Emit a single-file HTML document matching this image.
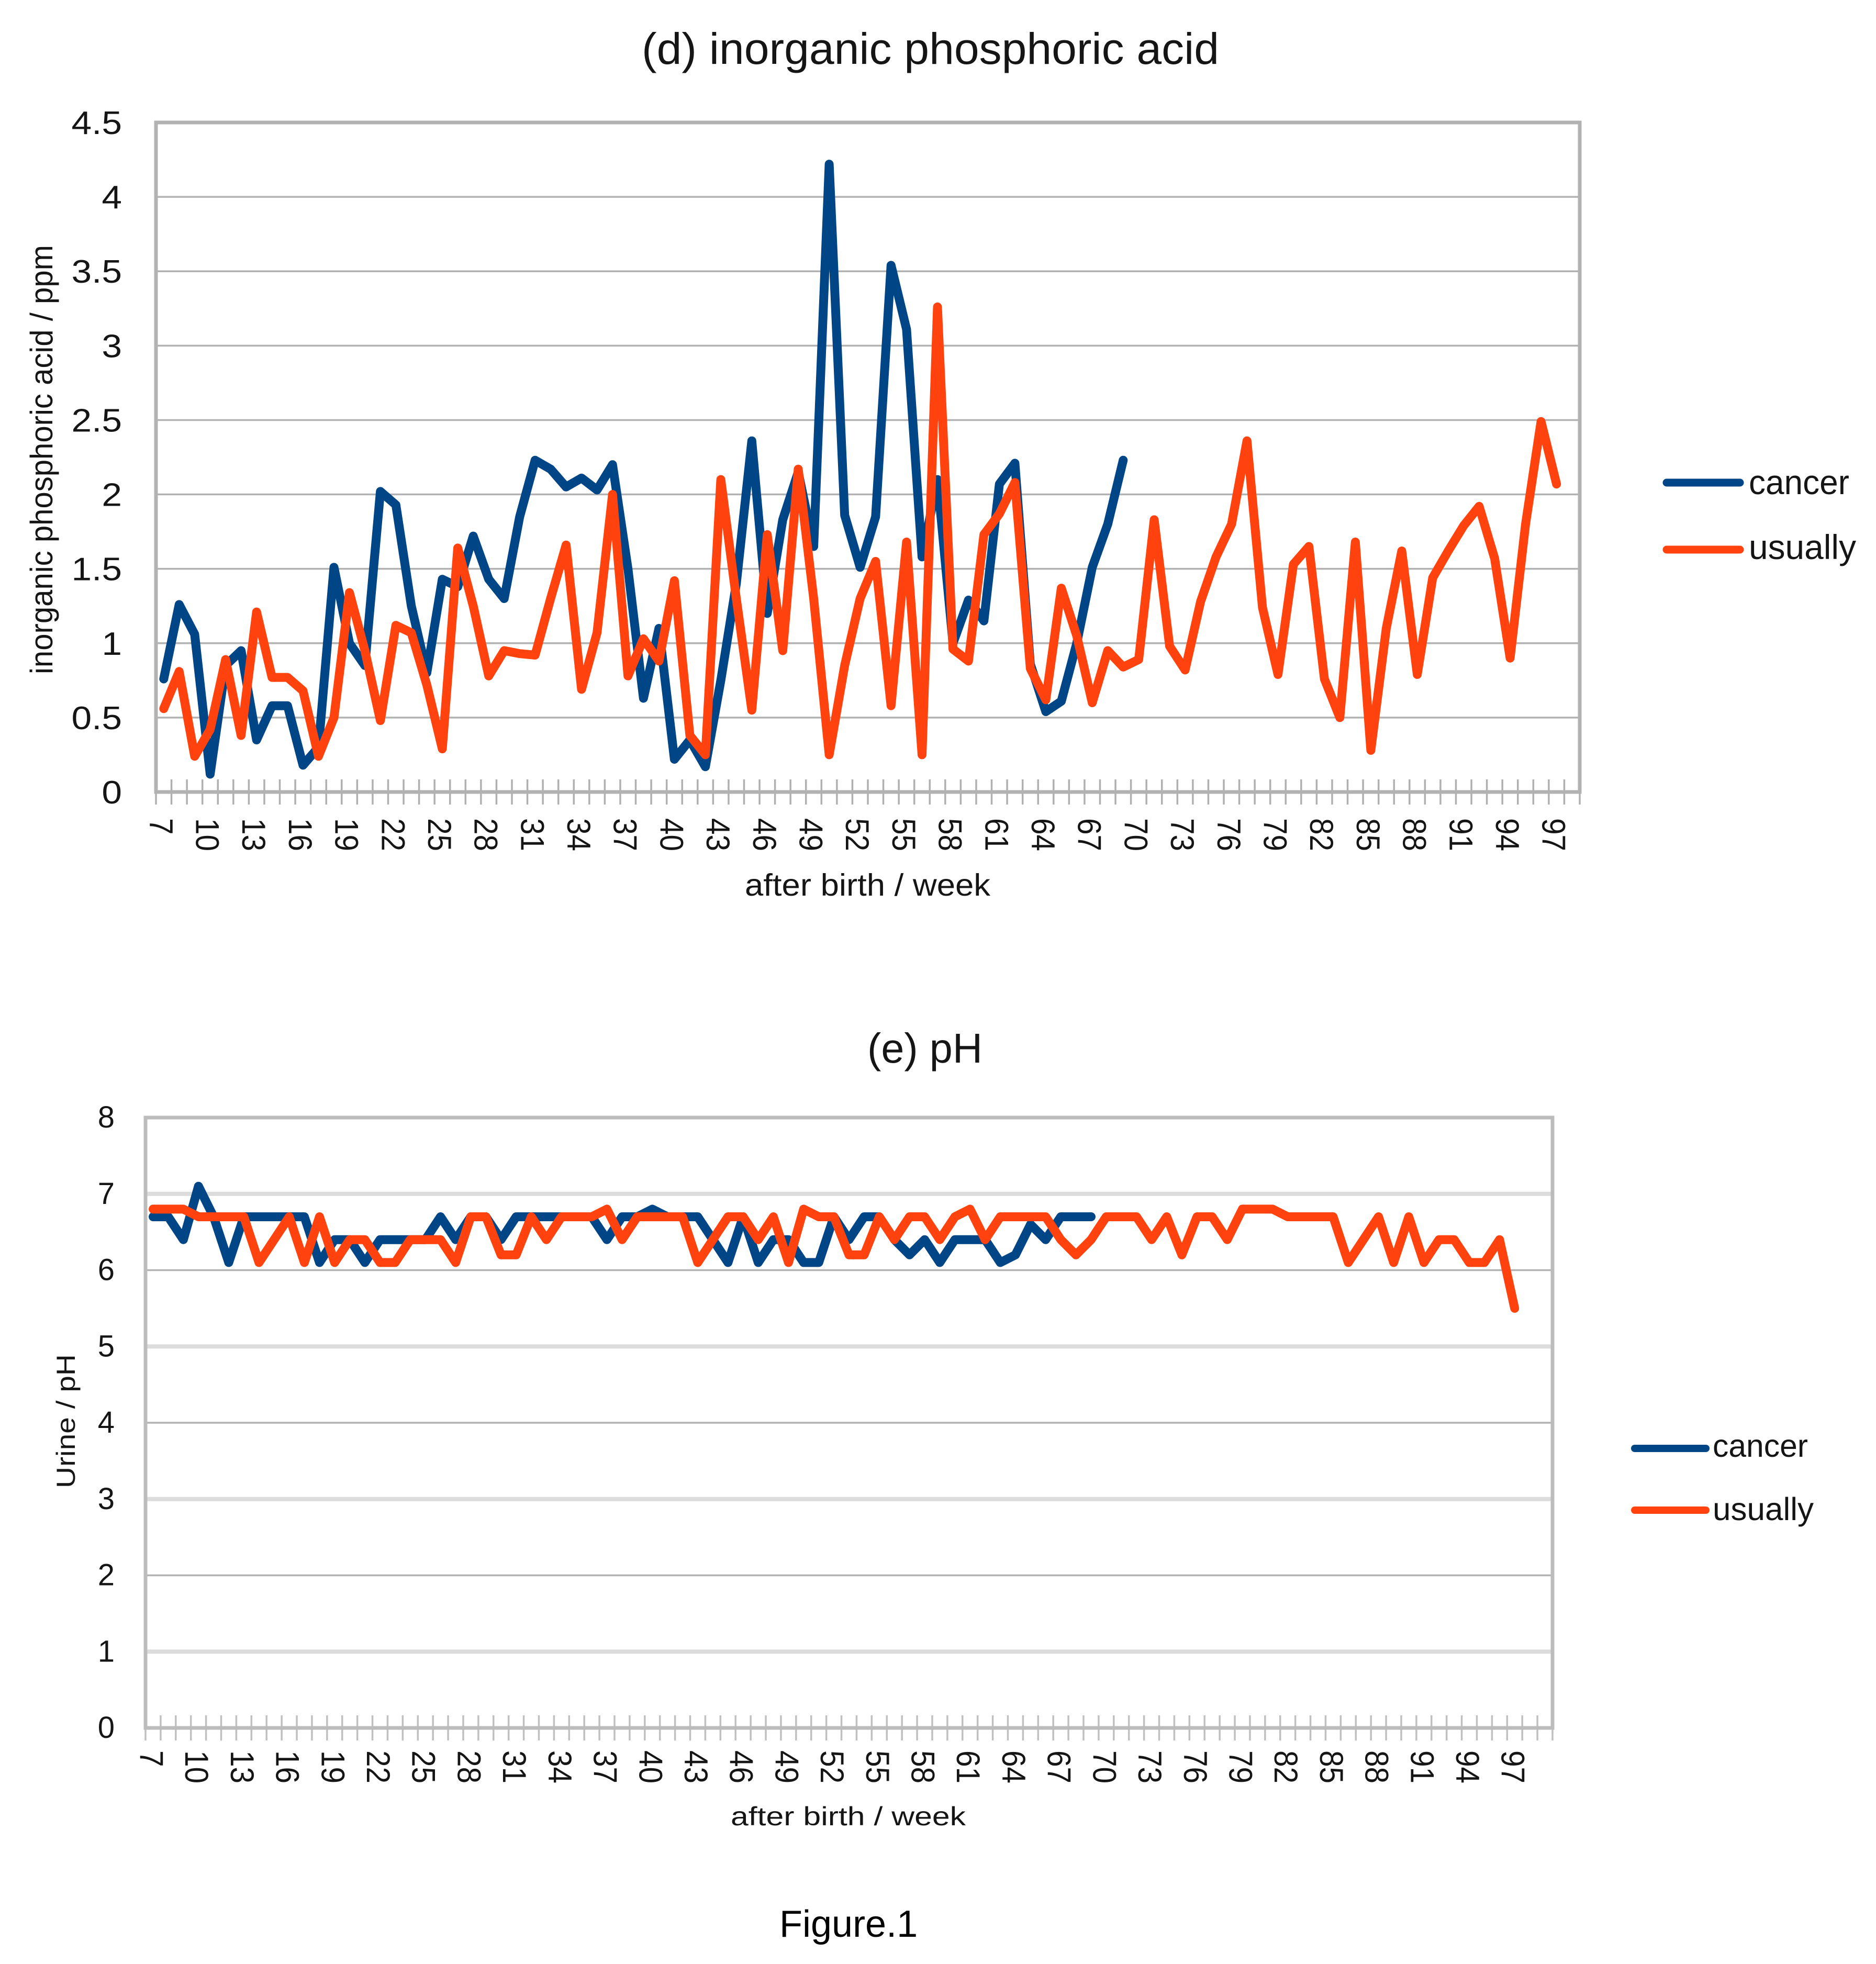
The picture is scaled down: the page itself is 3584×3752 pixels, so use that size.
<!DOCTYPE html>
<html lang="en">
<head>
<meta charset="utf-8">
<title>Figure 1: inorganic phosphoric acid and pH</title>
<style>
html,body{margin:0;padding:0;background:#fff}
svg{display:block}
text{font-family:"Liberation Sans",sans-serif;fill:#151515}
</style>
</head>
<body>
<svg id="figure" xmlns="http://www.w3.org/2000/svg" width="3584" height="3752" viewBox="0 0 3584 3752">
  <rect x="0" y="0" width="3584" height="3752" fill="#fff"/>

  <g id="chart-d">
    <text x="1226" y="122" font-size="84" textLength="1103" lengthAdjust="spacingAndGlyphs">(d) inorganic phosphoric acid</text>
    <text transform="translate(100,1288) rotate(-90)" font-size="60" textLength="820" lengthAdjust="spacingAndGlyphs">inorganic phosphoric acid / ppm</text>
    <text x="1423" y="1711" font-size="59" textLength="469" lengthAdjust="spacingAndGlyphs">after birth / week</text>
    <g>
      <line x1="3184" y1="922" x2="3324" y2="922" stroke="#004586" stroke-width="15" stroke-linecap="round"/>
      <text x="3341" y="944" font-size="66" textLength="192" lengthAdjust="spacingAndGlyphs">cancer</text>
      <line x1="3184" y1="1050" x2="3324" y2="1050" stroke="#ff420e" stroke-width="15" stroke-linecap="round"/>
      <text x="3341" y="1068" font-size="66" textLength="205" lengthAdjust="spacingAndGlyphs">usually</text>
    </g>
  </g>

  <g id="chart-e">
    <text x="1657" y="2030" font-size="80" textLength="220" lengthAdjust="spacingAndGlyphs">(e) pH</text>
    <text transform="translate(143,2843) rotate(-90)" font-size="50" textLength="256" lengthAdjust="spacingAndGlyphs">Urine / pH</text>
    <text x="1396" y="3487" font-size="50" textLength="449" lengthAdjust="spacingAndGlyphs">after birth / week</text>
    <g>
      <line x1="3123" y1="2767" x2="3259" y2="2767" stroke="#004586" stroke-width="14" stroke-linecap="round"/>
      <text x="3272" y="2783" font-size="61" textLength="182" lengthAdjust="spacingAndGlyphs">cancer</text>
      <line x1="3123" y1="2885" x2="3259" y2="2885" stroke="#ff420e" stroke-width="14" stroke-linecap="round"/>
      <text x="3272" y="2904" font-size="61" textLength="193" lengthAdjust="spacingAndGlyphs">usually</text>
    </g>
  </g>

  <text x="1489" y="3700" font-size="72" style="fill:#000">Figure.1</text>
</svg>

<script>
// ---- Chart (d): inorganic phosphoric acid ----
const phosCategoryWeeks = [7,8,9,10,11,12,13,14,15,16,17,18,19,20,21,22,23,24,25,26,27,28,29,30,31,32,33,34,35,36,37,38,39,40,41,42,43,44,45,46,47,48,49,50,51,52,53,54,55,56,57,58,59,60,61,62,63,64,65,66,67,68,69,70,71,72,73,74,75,76,77,78,79,80,81,82,83,84,85,86,87,88,89,90,91,92,93,94,95,96,97,98];
const phosTickLabels = [7,10,13,16,19,22,25,28,31,34,37,40,43,46,49,52,55,58,61,64,67,70,73,76,79,82,85,88,91,94,97];
const phosYTicks = [0,0.5,1,1.5,2,2.5,3,3.5,4,4.5];
const phosCancer = [0.76,1.26,1.06,0.12,0.85,0.95,0.35,0.58,0.58,0.18,0.30,1.51,1.00,0.85,2.02,1.93,1.25,0.80,1.43,1.38,1.72,1.43,1.30,1.85,2.23,2.17,2.05,2.11,2.03,2.20,1.50,0.63,1.10,0.22,0.35,0.17,0.75,1.40,2.36,1.20,1.83,2.15,1.65,4.22,1.86,1.51,1.85,3.54,3.11,1.58,2.10,1.00,1.29,1.15,2.07,2.21,0.86,0.54,0.61,1.00,1.51,1.80,2.23];
const phosUsually = [0.56,0.81,0.24,0.42,0.89,0.38,1.21,0.77,0.77,0.68,0.24,0.50,1.34,0.95,0.48,1.12,1.07,0.72,0.29,1.64,1.25,0.78,0.95,0.93,0.92,1.30,1.66,0.69,1.07,2.00,0.78,1.03,0.88,1.42,0.38,0.25,2.10,1.30,0.55,1.73,0.95,2.17,1.30,0.25,0.85,1.30,1.55,0.58,1.68,0.25,3.26,0.96,0.88,1.73,1.87,2.08,0.83,0.62,1.37,1.05,0.60,0.95,0.84,0.89,1.83,0.98,0.82,1.28,1.58,1.80,2.36,1.24,0.79,1.53,1.65,0.76,0.50,1.68,0.28,1.10,1.62,0.79,1.44,1.62,1.79,1.92,1.57,0.90,1.80,2.49,2.07];

// ---- Chart (e): urine pH ----
const phCategoryWeeks = [7,8,9,10,11,12,13,14,15,16,17,18,19,20,21,22,23,24,25,26,27,28,29,30,31,32,33,34,35,36,37,38,39,40,41,42,43,44,45,46,47,48,49,50,51,52,53,54,55,56,57,58,59,60,61,62,63,64,65,66,67,68,69,70,71,72,73,74,75,76,77,78,79,80,81,82,83,84,85,86,87,88,89,90,91,92,93,94,95,96,97,98,99];
const phTickLabels = [7,10,13,16,19,22,25,28,31,34,37,40,43,46,49,52,55,58,61,64,67,70,73,76,79,82,85,88,91,94,97];
const phYTicks = [0,1,2,3,4,5,6,7,8];
const phCancer = [6.7,6.7,6.4,7.1,6.7,6.1,6.7,6.7,6.7,6.7,6.7,6.1,6.4,6.4,6.1,6.4,6.4,6.4,6.4,6.7,6.4,6.7,6.7,6.4,6.7,6.7,6.7,6.7,6.7,6.7,6.4,6.7,6.7,6.8,6.7,6.7,6.7,6.4,6.1,6.7,6.1,6.4,6.4,6.1,6.1,6.7,6.4,6.7,6.7,6.4,6.2,6.4,6.1,6.4,6.4,6.4,6.1,6.2,6.6,6.4,6.7,6.7,6.7];
const phUsually = [6.8,6.8,6.8,6.7,6.7,6.7,6.7,6.1,6.4,6.7,6.1,6.7,6.1,6.4,6.4,6.1,6.1,6.4,6.4,6.4,6.1,6.7,6.7,6.2,6.2,6.7,6.4,6.7,6.7,6.7,6.8,6.4,6.7,6.7,6.7,6.7,6.1,6.4,6.7,6.7,6.4,6.7,6.1,6.8,6.7,6.7,6.2,6.2,6.7,6.4,6.7,6.7,6.4,6.7,6.8,6.4,6.7,6.7,6.7,6.7,6.4,6.2,6.4,6.7,6.7,6.7,6.4,6.7,6.2,6.7,6.7,6.4,6.8,6.8,6.8,6.7,6.7,6.7,6.7,6.1,6.4,6.7,6.1,6.7,6.1,6.4,6.4,6.1,6.1,6.4,5.5];

const SVG_NS = 'http://www.w3.org/2000/svg';

function drawChart(cfg) {
  const root = document.getElementById(cfg.rootId);
  const band = (cfg.right - cfg.left) / cfg.weeks.length;
  const yMax = cfg.yTicks[cfg.yTicks.length - 1];
  const firstWeek = cfg.weeks[0];
  const xOf = function (week) { return cfg.left + (week - firstWeek + 0.5) * band; };
  const yOf = function (v) { return cfg.bottom - (v / yMax) * (cfg.bottom - cfg.top); };

  // Gridlines and y labels
  cfg.yTicks.forEach(function (v, i) {
    if (v !== 0 && v !== yMax) {
      const grid = document.createElementNS(SVG_NS, 'line');
      grid.setAttribute('x1', cfg.left);
      grid.setAttribute('x2', cfg.right);
      grid.setAttribute('y1', yOf(v));
      grid.setAttribute('y2', yOf(v));
      const thick = cfg.altGrid && i % 2 === 1;
      grid.setAttribute('stroke', thick ? '#dcdcdc' : '#b2b2b2');
      grid.setAttribute('stroke-width', thick ? 8 : 3.5);
      
      
      root.appendChild(grid);
    }
    const label = document.createElementNS(SVG_NS, 'text');
    label.textContent = String(v);
    label.setAttribute('text-anchor', 'end');
    label.setAttribute('font-size', cfg.yFont);
    label.setAttribute('transform', 'translate(' + cfg.yLabelX + ',' + (yOf(v) + cfg.yLabelDy) + ') scale(' + cfg.yFontSx + ',1)');
    
    
    root.appendChild(label);
  });

  // X tick marks
  for (let k = 0; k <= cfg.weeks.length; k++) {
    const tickX = cfg.left + k * band;
    const tick = document.createElementNS(SVG_NS, 'line');
    tick.setAttribute('x1', tickX);
    tick.setAttribute('x2', tickX);
    tick.setAttribute('y1', cfg.bottom - cfg.tickLen);
    tick.setAttribute('y2', cfg.bottom + cfg.tickLen);
    tick.setAttribute('stroke', cfg.tickColor);
    tick.setAttribute('stroke-width', 3.5);
    
    
    root.appendChild(tick);
  }

  // Frame
  const frame = document.createElementNS(SVG_NS, 'rect');
  frame.setAttribute('x', cfg.left);
  frame.setAttribute('y', cfg.top);
  frame.setAttribute('width', cfg.right - cfg.left);
  frame.setAttribute('height', cfg.bottom - cfg.top);
  frame.setAttribute('fill', 'none');
  frame.setAttribute('stroke', cfg.frameColor);
  frame.setAttribute('stroke-width', cfg.frameWidth);
  
  
  root.appendChild(frame);

  // X tick labels
  cfg.tickLabels.forEach(function (week) {
    const label = document.createElementNS(SVG_NS, 'text');
    label.textContent = String(week);
    label.setAttribute('font-size', 63);
    label.setAttribute('transform', 'translate(' + (xOf(week) + cfg.xLabelDx) + ',' + cfg.xLabelY + ') rotate(90) scale(0.9,1)');
    
    
    root.appendChild(label);
  });

  // Series
  cfg.series.forEach(function (s) {
    const pts = s.values.map(function (v, i) {
      return xOf(cfg.weeks[i]).toFixed(1) + ',' + yOf(v).toFixed(1);
    }).join(' ');
    const line = document.createElementNS(SVG_NS, 'polyline');
    line.setAttribute('points', pts);
    line.setAttribute('fill', 'none');
    line.setAttribute('stroke', s.color);
    line.setAttribute('stroke-width', cfg.lineWidth);
    line.setAttribute('stroke-linejoin', 'round');
    line.setAttribute('stroke-linecap', 'round');
    
    
    root.appendChild(line);
  });
}

drawChart({
  rootId: 'chart-d', weeks: phosCategoryWeeks, tickLabels: phosTickLabels, yTicks: phosYTicks,
  left: 298, right: 3018, top: 234, bottom: 1513,
  yFont: 62, yFontSx: 1.12, yLabelX: 233, yLabelDy: 22,
  xLabelDx: -27, xLabelY: 1563, tickLen: 24, tickColor: '#b0b0b0',
  frameColor: '#b2b2b2', frameWidth: 7, altGrid: false, lineWidth: 17,
  series: [
    { name: 'cancer-series-phosphoric-acid', values: phosCancer, color: '#004586' },
    { name: 'usually-series-phosphoric-acid', values: phosUsually, color: '#ff420e' }
  ]
});

drawChart({
  rootId: 'chart-e', weeks: phCategoryWeeks, tickLabels: phTickLabels, yTicks: phYTicks,
  left: 278, right: 2966, top: 2135, bottom: 3301,
  yFont: 58, yFontSx: 1, yLabelX: 219, yLabelDy: 19,
  xLabelDx: -25, xLabelY: 3344, tickLen: 24, tickColor: '#c0c0c0',
  frameColor: '#bcbcbc', frameWidth: 7, altGrid: true, lineWidth: 17,
  series: [
    { name: 'cancer-series-ph', values: phCancer, color: '#004586' },
    { name: 'usually-series-ph', values: phUsually, color: '#ff420e' }
  ]
});
</script>
</body>
</html>
